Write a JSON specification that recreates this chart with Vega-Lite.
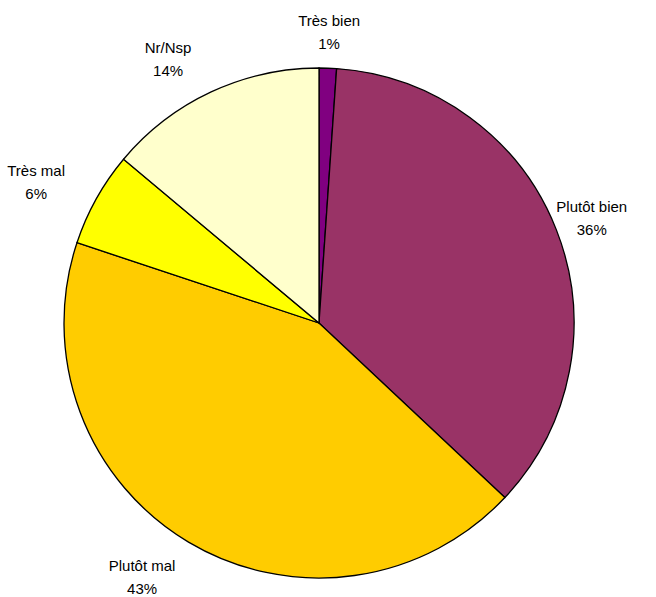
{
  "$schema": "https://vega.github.io/schema/vega-lite/v6.json",
  "width": 638,
  "height": 546,
  "autosize": {"type": "none"},
  "padding": {"left": 0, "top": 50, "right": 18, "bottom": 1},
  "background": "white",
  "config": {"view": {"stroke": null}},
  "data": {
    "values": [
      {"order": 1, "category": "Très bien", "value": 1.1, "label": "Très bien\n1%"},
      {"order": 2, "category": "Plutôt bien", "value": 35.9, "label": "Plutôt bien\n36%"},
      {"order": 3, "category": "Plutôt mal", "value": 43.1, "label": "Plutôt mal\n43%"},
      {"order": 4, "category": "Très mal", "value": 6.0, "label": "Très mal\n6%"},
      {"order": 5, "category": "Nr/Nsp", "value": 13.9, "label": "Nr/Nsp\n14%"}
    ]
  },
  "encoding": {
    "theta": {"field": "value", "type": "quantitative", "stack": true},
    "order": {"field": "order", "type": "quantitative", "sort": "ascending"}
  },
  "layer": [
    {
      "mark": {"type": "arc", "outerRadius": 255, "stroke": "black", "strokeWidth": 1.3},
      "encoding": {
        "color": {
          "field": "category",
          "type": "nominal",
          "scale": {
            "domain": ["Très bien", "Plutôt bien", "Plutôt mal", "Très mal", "Nr/Nsp"],
            "range": ["#800080", "#993366", "#FFCC00", "#FFFF00", "#FFFFCC"]
          },
          "legend": null
        }
      }
    },
    {
      "mark": {"type": "text", "radius": 293, "dy": -9, "dx": {"expr": "(datum.value_start + datum.value_end) / 2 > 50 ? -27 : 0"}, "font": "Liberation Sans", "fontSize": 15, "lineBreak": "\n", "lineHeight": 23, "align": "center", "baseline": "middle", "color": "black"},
      "encoding": {
        "text": {"field": "label", "type": "nominal"}
      }
    }
  ]
}
